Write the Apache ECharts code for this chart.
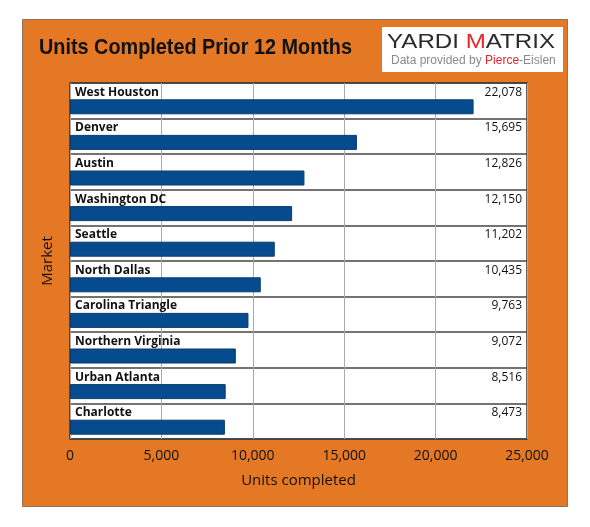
<!DOCTYPE html>
<html>
<head>
<meta charset="utf-8">
<script src="https://cdn.jsdelivr.net/npm/echarts@6/dist/echarts.min.js"></script>
<style>
  html, body { margin: 0; padding: 0; background: #fff; }
  #chart { width: 590px; height: 527px; }
</style>
</head>
<body>
<div id="chart"></div>
<script>
  // 数据
  const markets = ['West Houston', 'Denver', 'Austin', 'Washington DC', 'Seattle',
    'North Dallas', 'Carolina Triangle', 'Northern Virginia', 'Urban Atlanta', 'Charlotte']
  const units = [22078, 15695, 12826, 12150, 11202, 10435, 9763, 9072, 8516, 8473]
  const xTicks = [0, 5000, 10000, 15000, 20000, 25000]

  const chart = echarts.init(document.getElementById('chart'), null, { renderer: 'canvas' })

  // 文本宽度测量, 用于横向缩放
  const ctx = document.createElement('canvas').getContext('2d')
  function fitScale(text, font, target) {
    ctx.font = font
    return target / ctx.measureText(text).width
  }
  const titleFont = 'bold 22px "Liberation Sans"'
  const titleText = 'Units Completed Prior 12 Months'
  const logoFont = '21px "Liberation Sans"'
  const logoText = 'YARDI MATRIX'

  const fmt = v => v.toLocaleString('en-US')

  const option = {
    backgroundColor: '#fff',
    animation: false,
    graphic: [
      {
        type: 'rect', z: -10, silent: true,
        shape: { x: 22.5, y: 19.5, width: 545, height: 487 },
        style: { fill: '#E47825', stroke: '#8c7462', lineWidth: 1 }
      },
      {
        type: 'text', x: 39, y: 48, scaleX: fitScale(titleText, titleFont, 313),
        style: { text: titleText, font: titleFont, fill: '#111', verticalAlign: 'middle' }
      },
      {
        type: 'rect', shape: { x: 382, y: 27, width: 181, height: 45 },
        style: { fill: '#fff' }
      },
      {
        type: 'text', x: 387, y: 42, scaleX: fitScale(logoText, logoFont, 168),
        style: {
          text: '{a|YARDI }{b|M}{a|ATRIX}', font: logoFont, verticalAlign: 'middle',
          rich: {
            a: { font: logoFont, fill: '#2b2b2b' },
            b: { font: logoFont, fill: '#e3262b' }
          }
        }
      },
      {
        type: 'text', x: 391, y: 61,
        style: {
          text: '{a|Data provided by }{b|Pierce}{a|-Eislen}', verticalAlign: 'middle',
          rich: {
            a: { fontFamily: 'Liberation Sans', fontSize: 12, fill: '#8a8a8a' },
            b: { fontFamily: 'Liberation Sans', fontSize: 12, fill: '#e3262b' }
          }
        }
      }
    ],
    grid: {
      left: 70, right: 63, top: 83, bottom: 88,
      show: true, backgroundColor: '#fff', borderColor: '#333', borderWidth: 1.5,
      containLabel: false
    },
    xAxis: {
      type: 'value', min: xTicks[0], max: xTicks[xTicks.length - 1], interval: 5000,
      name: 'Units completed', nameLocation: 'middle', nameGap: 34,
      nameTextStyle: { fontFamily: 'Open Sans', fontSize: 15, color: '#111' },
      axisLine: { show: false }, axisTick: { show: false },
      axisLabel: { fontFamily: 'Open Sans', fontSize: 14, color: '#111', margin: 10, formatter: v => fmt(v) },
      splitLine: { lineStyle: { color: '#aaa', width: 1 } }
    },
    yAxis: [
      {
        type: 'category', inverse: true, data: markets,
        name: 'Market', nameLocation: 'middle', nameGap: 15, nameRotate: 90,
        nameTextStyle: { fontFamily: 'Open Sans', fontSize: 15, color: '#111' },
        axisLine: { show: false }, axisTick: { show: false },
        axisLabel: {
          inside: true, margin: 5, fontFamily: 'Open Sans', fontWeight: 'bold', fontSize: 12,
          color: '#111', verticalAlign: 'bottom', lineHeight: 17
        },
        splitLine: { show: true, lineStyle: { color: '#444', width: 1.5 } }
      },
      {
        type: 'category', inverse: true, position: 'right', data: units.map(fmt),
        axisLine: { show: false }, axisTick: { show: false },
        axisLabel: {
          inside: true, margin: 5, fontFamily: 'Open Sans', fontSize: 12,
          color: '#111', verticalAlign: 'bottom', lineHeight: 17
        },
        splitLine: { show: false }
      }
    ],
    series: [
      {
        // 占位, 把柱子推到每行下半部分
        type: 'bar', silent: true, data: units.map(() => 0),
        barWidth: 15, barGap: '-20%', itemStyle: { color: 'transparent' }
      },
      {
        type: 'bar', data: units, barWidth: 15, barGap: '-20%',
        itemStyle: { color: '#064B8D', borderColor: '#0a3c70', borderWidth: 1 }
      }
    ]
  }
  chart.setOption(option)
</script>
</body>
</html>
